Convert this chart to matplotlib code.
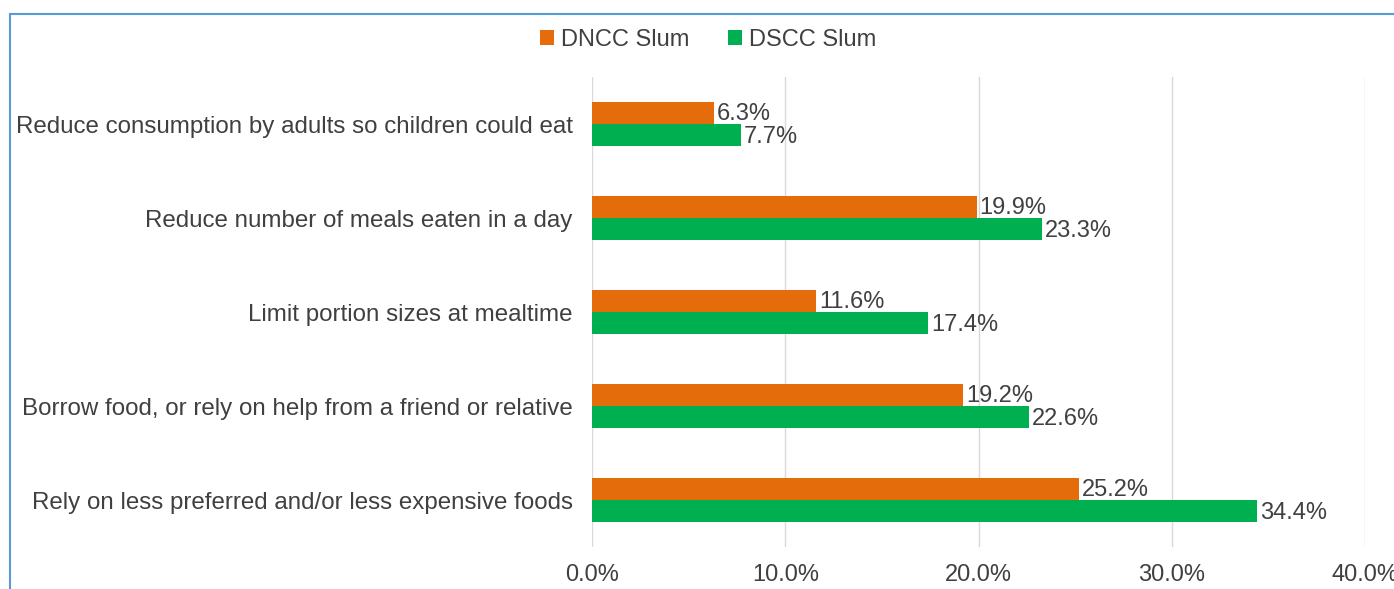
import matplotlib.pyplot as plt
import numpy as np
from matplotlib.lines import Line2D

plt.rcParams['font.family'] = ['Liberation Sans', 'DejaVu Sans']

# coping strategies, top to bottom
strategies = [
    'Reduce consumption by adults so children could eat',
    'Reduce number of meals eaten in a day',
    'Limit portion sizes at mealtime',
    'Borrow food, or rely on help from a friend or relative',
    'Rely on less preferred and/or less expensive foods',
]
dncc = [6.3, 19.9, 11.6, 19.2, 25.2]
dscc = [7.7, 23.3, 17.4, 22.6, 34.4]
xticks = [0, 10, 20, 30, 40]

orange = '#E46C0A'
green = '#00B050'
txt = '#404040'
fs = 17

fig = plt.figure(figsize=(13.94, 5.89), dpi=100)
ax = fig.add_axes([0.4247, 0.071, 0.5545, 0.798])

y = np.arange(len(strategies))
h = 0.234
ax.barh(y - h / 2, dncc, height=h, color=orange, label='DNCC Slum', zorder=3)
ax.barh(y + h / 2, dscc, height=h, color=green, label='DSCC Slum', zorder=3)

for yi, a, b in zip(y, dncc, dscc):
    ax.text(a + 0.15, yi - h / 2 + 0.01, f'{a:.1f}%', va='center', ha='left', fontsize=fs, color=txt)
    ax.text(b + 0.15, yi + h / 2 + 0.02, f'{b:.1f}%', va='center', ha='left', fontsize=fs, color=txt)

ax.set_ylim(len(strategies) - 0.5, -0.5)
ax.set_xlim(0, 40)
ax.set_yticks(y)
ax.set_yticklabels(strategies, fontsize=17.4, color=txt)
ax.set_xticks(xticks)
ax.set_xticklabels([f'{t:.1f}%' for t in xticks], fontsize=fs, color=txt)
ax.tick_params(axis='y', length=0, pad=14)
ax.tick_params(axis='x', length=0, pad=12)
ax.grid(axis='x', color='#D9D9D9', linewidth=1, zorder=0)
for s in ax.spines.values():
    s.set_visible(False)

ax.legend(loc='center', bbox_to_anchor=(0.508, 0.932), bbox_transform=fig.transFigure,
          ncol=2, frameon=False, fontsize=fs, handlelength=0.6, handleheight=0.6,
          handletextpad=0.3, columnspacing=1.6, labelcolor=txt)

# chart frame edges
fig.add_artist(Line2D([10 / 1394, 1], [1 - 14 / 589, 1 - 14 / 589], color='#5B9BD5', lw=1.5))
fig.add_artist(Line2D([10 / 1394, 10 / 1394], [0, 1 - 14 / 589], color='#5B9BD5', lw=1.5))

fig.savefig('out.png', dpi=100)
